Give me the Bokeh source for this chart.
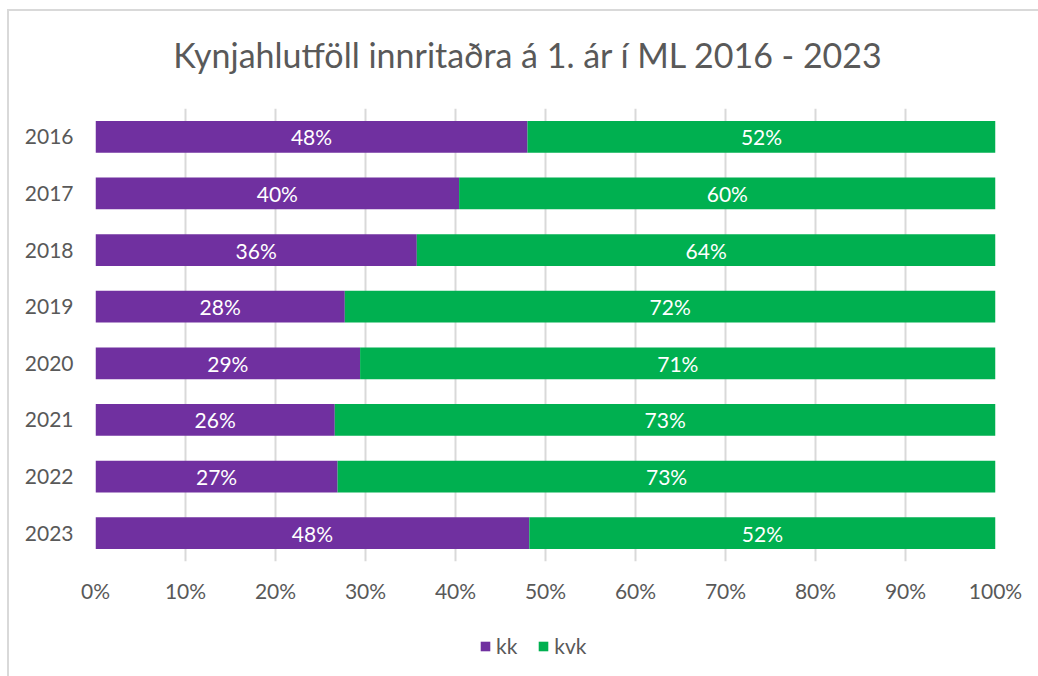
from bokeh.plotting import figure
from bokeh.layouts import column
from bokeh.models import (FactorRange, Range1d, ColumnDataSource, NumeralTickFormatter,
                          Legend, LegendItem, LabelSet, Label, FixedTicker)
from bokeh.core.properties import value
from bokeh.embed import file_html
from bokeh.resources import INLINE

# ---- data ----
years = ["2016", "2017", "2018", "2019", "2020", "2021", "2022", "2023"]
kk = [48.0, 40.4, 35.7, 27.7, 29.4, 26.4, 26.9, 48.2]
kvk = [52.0, 59.6, 64.3, 72.3, 70.6, 72.9, 73.1, 51.8]
series_names = ["kk", "kvk"]
series_colors = ["#7030A0", "#00B050"]
x_ticks = [0.0, 0.1, 0.2, 0.3, 0.4, 0.5, 0.6, 0.7, 0.8, 0.9, 1.0]
title_text = "Kynjahlutföll innritaðra á 1. ár í ML 2016 - 2023"

FONT = "Lato"
TXT = "#595959"

tot = [a + b for a, b in zip(kk, kvk)]
kk_n = [a / t for a, t in zip(kk, tot)]
kvk_n = [b / t for b, t in zip(kvk, tot)]
src = ColumnDataSource(dict(
    year=years, kk=kk_n, kvk=kvk_n,
    kk_mid=[a / 2 for a in kk_n],
    kvk_mid=[a + b / 2 for a, b in zip(kk_n, kvk_n)],
    kk_lab=[f"{round(v)}%" for v in kk],
    kvk_lab=[f"{round(v)}%" for v in kvk],
))


def blank(fig):
    fig.axis.visible = False
    fig.grid.visible = False
    fig.outline_line_color = None


# ---- title strip ----
pt = figure(width=1029, height=75, x_range=Range1d(0, 1), y_range=Range1d(0, 1),
            output_backend="svg", toolbar_location=None, min_border=0)
blank(pt)
pt.add_layout(Label(x=0.481, y=0.43, text=title_text, text_align="center",
                    text_baseline="middle", text_font=FONT, text_font_size="34px",
                    text_color=TXT))

# ---- main chart ----
p = figure(width=1029, height=535, y_range=FactorRange(factors=years[::-1]),
           x_range=Range1d(0, 1), output_backend="svg", toolbar_location=None,
           min_border_left=86, min_border_right=43, min_border_top=22,
           min_border_bottom=60)

rs = p.hbar_stack(series_names, y="year", height=0.56, color=series_colors,
                  line_color=None, source=src)

for xcol, tcol in (("kk_mid", "kk_lab"), ("kvk_mid", "kvk_lab")):
    p.add_layout(LabelSet(x=xcol, y="year", text=tcol, source=src,
                          text_align="center", text_baseline="middle",
                          text_color="white", text_font=value(FONT),
                          text_font_size="21px"))

p.xaxis.ticker = FixedTicker(ticks=x_ticks)
p.xaxis.formatter = NumeralTickFormatter(format="0%")
for ax in (p.xaxis, p.yaxis):
    ax.axis_line_color = None
    ax.major_tick_line_color = None
    ax.minor_tick_line_color = None
    ax.major_label_text_font = FONT
    ax.major_label_text_font_size = "21px"
    ax.major_label_text_color = TXT
p.xaxis.major_label_standoff = 10
p.yaxis.major_label_standoff = 16

p.ygrid.grid_line_color = None
p.xgrid.grid_line_color = "#D9D9D9"
p.xgrid.grid_line_width = 2
p.outline_line_color = None

# ---- legend strip (separate small figure so the legend is not clipped) ----
# zero-height copies of the stacked bars: only their legend glyphs show
pl = figure(width=1029, height=55, x_range=Range1d(0, 1),
            y_range=FactorRange(factors=years[::-1]),
            output_backend="svg", toolbar_location=None, min_border=0)
blank(pl)
lrs = pl.hbar_stack(series_names, y="year", height=0, color=series_colors,
                    line_color=None, source=src)
legend = Legend(items=[LegendItem(label=n, renderers=[r]) for n, r in zip(series_names, lrs)],
                orientation="horizontal", location=(384, 18),
                background_fill_alpha=0, border_line_color=None,
                label_text_font=FONT, label_text_font_size="21px",
                label_text_color=TXT, glyph_width=12, glyph_height=12,
                label_standoff=5, spacing=20, padding=0, margin=0)
pl.add_layout(legend, "center")

layout = column(pt, p, pl, spacing=0)
layout.margin = (9, 0, 0, 7)
layout.styles = {"border-top": "2px solid #D9D9D9", "border-left": "2px solid #D9D9D9"}

open("out.html", "w").write(file_html(layout, INLINE))
